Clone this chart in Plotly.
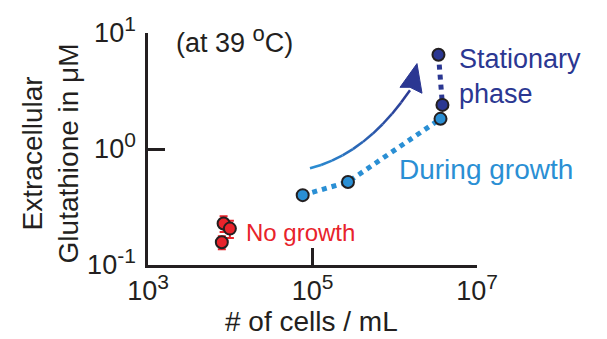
import plotly.graph_objects as go

# ---- data ----
nogrowth_x = [8.3e3, 9.9e3, 7.9e3]
nogrowth_y = [0.228, 0.206, 0.157]
nogrowth_err = [0.035, 0.035, 0.02]

growth_x = [7.6e4, 2.7e5, 3.6e6]
growth_y = [0.40, 0.52, 1.82]
growth_err = [0.03, 0.03, 0.12]

stat_x = [3.4e6, 3.8e6]
stat_y = [6.5, 2.4]
stat_err = [0.3, 0.15]

xtick_vals = [1e3, 1e5, 1e7]
xtick_exp = ["3", "5", "7"]
ytick_vals = [0.1, 1, 10]
ytick_exp = ["-1", "0", "1"]

RED = "#E8232B"
LIGHT = "#2A8FD4"
DARK = "#2B3792"
INK = "#231F20"
FONT = "Liberation Sans, Arial, sans-serif"

SUP = "10<sup><span style='font-size:21px'>%s</span></sup>"
xtick_text = [SUP % e for e in xtick_exp]
ytick_text = [SUP % e for e in ytick_exp]

W, H = 607, 339
L, R, T, B = 148, 130, 30, 74
PW, PH = W - L - R, H - T - B


def px(x):
    return (x - L) / PW


def py(y):
    return (H - B - y) / PH


fig = go.Figure()

# dotted connecting lines
fig.add_trace(go.Scatter(x=growth_x, y=growth_y, mode="lines",
                         line=dict(color=LIGHT, width=5, dash="dot"),
                         hoverinfo="skip", showlegend=False))
fig.add_trace(go.Scatter(x=stat_x, y=stat_y, mode="lines",
                         line=dict(color=DARK, width=5, dash="dot"),
                         hoverinfo="skip", showlegend=False))

marker_line = dict(color=INK, width=2)
fig.add_trace(go.Scatter(x=nogrowth_x, y=nogrowth_y, mode="markers",
                         marker=dict(size=12, color=RED, line=marker_line),
                         error_y=dict(type="data", array=nogrowth_err, color=RED,
                                      thickness=2, width=4),
                         showlegend=False))
fig.add_trace(go.Scatter(x=growth_x, y=growth_y, mode="markers",
                         marker=dict(size=12, color=LIGHT, line=marker_line),
                         error_y=dict(type="data", array=growth_err, color=LIGHT,
                                      thickness=2, width=4),
                         showlegend=False))
fig.add_trace(go.Scatter(x=stat_x, y=stat_y, mode="markers",
                         marker=dict(size=12, color=DARK, line=marker_line),
                         error_y=dict(type="data", array=stat_err, color=DARK,
                                      thickness=2, width=4),
                         showlegend=False))

# curved gradient arrow (decoration), in pixel -> paper coords
p0, c, p2 = (310, 167), (366, 153), (410, 88)


def bez(t):
    return ((1 - t) ** 2 * p0[0] + 2 * t * (1 - t) * c[0] + t ** 2 * p2[0],
            (1 - t) ** 2 * p0[1] + 2 * t * (1 - t) * c[1] + t ** 2 * p2[1])


def mix(a, b, t):
    ca = [int(a[i:i + 2], 16) for i in (1, 3, 5)]
    cb = [int(b[i:i + 2], 16) for i in (1, 3, 5)]
    return "rgb(%d,%d,%d)" % tuple(round(ca[k] + (cb[k] - ca[k]) * t) for k in range(3))


shapes = []
N = 10
for i in range(N):
    t0, t1 = i / N, (i + 1) / N
    a, b = bez(t0), bez(t1)
    shapes.append(dict(type="line", xref="paper", yref="paper",
                       x0=px(a[0]), y0=py(a[1]), x1=px(b[0]), y1=py(b[1]),
                       line=dict(color=mix(LIGHT, DARK, (t0 + t1) / 2), width=2.5)))
tip, lft, rgt, notch = (417, 61), (400, 85), (422, 91), (410, 85)
shapes.append(dict(type="path", xref="paper", yref="paper",
                   path="M %f %f L %f %f L %f %f L %f %f Z" % (
                       px(tip[0]), py(tip[1]), px(lft[0]), py(lft[1]),
                       px(notch[0]), py(notch[1]), px(rgt[0]), py(rgt[1])),
                   fillcolor=DARK, line=dict(color=DARK, width=1)))


def f(size, color):
    return dict(family=FONT, size=size, color=color)


annotations = [
    dict(x=px(174), y=py(37), xref="paper", yref="paper", xanchor="left", yanchor="middle",
         text="(at 39 <sup><span style='font-size:22px'>o</span></sup>C)", showarrow=False,
         font=f(27, INK)),
    dict(x=px(457), y=py(74), xref="paper", yref="paper", xanchor="left", yanchor="middle",
         text="Stationary<br>phase", align="left", showarrow=False,
         font=f(27, DARK)),
    dict(x=px(397), y=py(168), xref="paper", yref="paper", xanchor="left", yanchor="middle",
         text="During growth", showarrow=False, font=f(28, LIGHT)),
    dict(x=px(244), y=py(232), xref="paper", yref="paper", xanchor="left", yanchor="middle",
         text="No growth", showarrow=False, font=f(24, RED)),
    dict(x=px(311), y=py(322), xref="paper", yref="paper", xanchor="center", yanchor="middle",
         text="# of cells / mL", showarrow=False, font=f(28, INK)),
    dict(x=px(50), y=py(152), xref="paper", yref="paper", xanchor="center", yanchor="middle",
         text="Extracellular<br>Glutathione in μM", textangle=-90, showarrow=False,
         font=f(28, INK)),
]

axis_common = dict(type="log", showgrid=False, zeroline=False, showline=True,
                   linecolor=INK, linewidth=2.5, ticks="inside", ticklen=17,
                   tickwidth=2.5, tickcolor=INK,
                   tickfont=dict(family=FONT, size=27, color=INK))

fig.update_layout(
    width=W, height=H,
    margin=dict(l=L, r=R, t=T, b=B, pad=0),
    paper_bgcolor="white", plot_bgcolor="white",
    xaxis=dict(axis_common, range=[3, 7], tickvals=xtick_vals, ticktext=xtick_text),
    yaxis=dict(axis_common, range=[-1, 1], tickvals=ytick_vals, ticktext=ytick_text,
               ticklabelstandoff=4),
    shapes=shapes, annotations=annotations, showlegend=False,
)

fig.write_html("out.html", config={"displayModeBar": False},
               post_script="document.body.style.margin='0px';document.body.style.overflow='hidden';")
